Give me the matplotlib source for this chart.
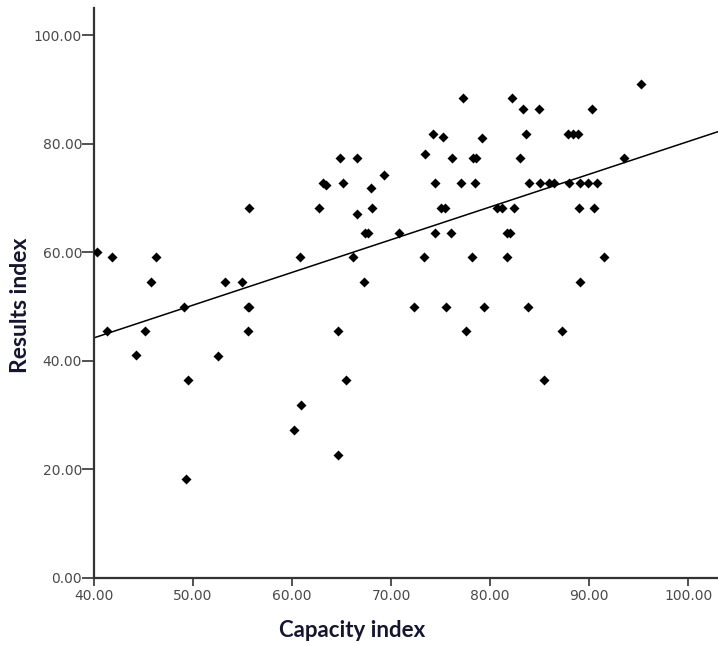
import numpy as np
import matplotlib.pyplot as plt

# =========================================================
# Data
# =========================================================

capacity = [
    40.3, 41.8, 46.3, 45.8, 49.1, 53.2, 54.9, 55.5, 55.7, 55.6,
    60.8, 41.3, 44.2, 45.2, 49.5, 49.3, 52.5, 55.5, 60.2, 60.9,
    64.6, 65.4, 64.6, 77.6, 87.2, 85.4, 64.8, 66.6, 63.1, 63.4,
    65.1, 68.0, 69.3, 62.7, 66.6, 68.1, 67.4, 67.7, 70.8, 66.2,
    67.3, 73.3, 78.2, 81.7, 72.3, 75.5, 79.4, 73.4, 74.2, 75.2,
    79.2, 76.1, 78.3, 78.6, 74.4, 77.1, 78.5, 75.0, 75.4, 80.7,
    81.2, 74.4, 76.0, 81.7, 82.0, 95.2, 82.2, 77.3, 83.3, 84.9,
    90.3, 83.6, 87.9, 88.4, 88.9, 83.0, 93.5, 83.9, 85.0, 85.9,
    86.4, 88.0, 89.1, 89.9, 90.8, 82.4, 89.0, 90.5, 91.5, 89.1,
    83.8,
]

results = [
    60.0, 59.1, 59.1, 54.5, 50.0, 54.5, 54.5, 50.0, 50.0, 68.2,
    59.1, 45.5, 41.0, 45.5, 36.4, 18.2, 40.9, 45.5, 27.3, 31.8,
    45.5, 36.4, 22.7, 45.5, 45.5, 36.4, 77.3, 77.3, 72.7, 72.3,
    72.7, 71.9, 74.2, 68.2, 67.1, 68.2, 63.6, 63.6, 63.6, 59.1,
    54.5, 59.1, 59.1, 59.1, 50.0, 50.0, 50.0, 78.1, 81.8, 81.2,
    81.0, 77.3, 77.3, 77.3, 72.7, 72.7, 72.7, 68.2, 68.2, 68.2,
    68.2, 63.6, 63.6, 63.6, 63.6, 90.9, 88.4, 88.4, 86.4, 86.4,
    86.4, 81.8, 81.8, 81.8, 81.8, 77.3, 77.3, 72.7, 72.7, 72.7,
    72.7, 72.7, 72.7, 72.7, 72.7, 68.2, 68.2, 68.2, 59.1, 54.5,
    50.0,
]

x_ticks = [40, 50, 60, 70, 80, 90, 100]
y_ticks = [0, 20, 40, 60, 80, 100]

# =========================================================
# Plot
# =========================================================

fig = plt.figure(figsize=(7.18, 6.46), dpi=100)
ax = fig.add_axes([0.1309, 0.1053, 0.8691, 0.8824])

ax.scatter(capacity, results, marker="D", s=26, color="black",
           linewidths=0, zorder=3)

# linear fit line across the whole x range
slope, intercept = np.polyfit(capacity, results, 1)
x_line = np.array([40, 103])
ax.plot(x_line, slope * x_line + intercept, color="black", linewidth=1.1)

ax.set_xlim(40, 103)
ax.set_ylim(0, 105)
ax.set_xticks(x_ticks)
ax.set_yticks(y_ticks)
ax.set_xticklabels([f"{t:.2f}" for t in x_ticks])
ax.set_yticklabels([f"{t:.2f}" for t in y_ticks])

for side in ["top", "right"]:
    ax.spines[side].set_visible(False)
for side in ["left", "bottom"]:
    ax.spines[side].set_color("#333333")
    ax.spines[side].set_linewidth(1.6)

ax.tick_params(axis="x", length=6, width=1.2, color="#333333",
               labelcolor="#4a4a4a", labelsize=10, pad=2)
ax.tick_params(axis="y", length=8.5, width=1.2, color="#333333",
               labelcolor="#4a4a4a", labelsize=10, pad=0)

fig.text(0.49, 0.008, "Capacity index", ha="center", va="bottom",
         fontsize=16, fontweight="bold", color="#151530", family="Lato")
fig.text(0.028, 0.528, "Results index", ha="center", va="center",
         rotation=90, fontsize=16.5, fontweight="bold", color="#151530",
         family="Lato")

fig.savefig("out.png", dpi=100)
